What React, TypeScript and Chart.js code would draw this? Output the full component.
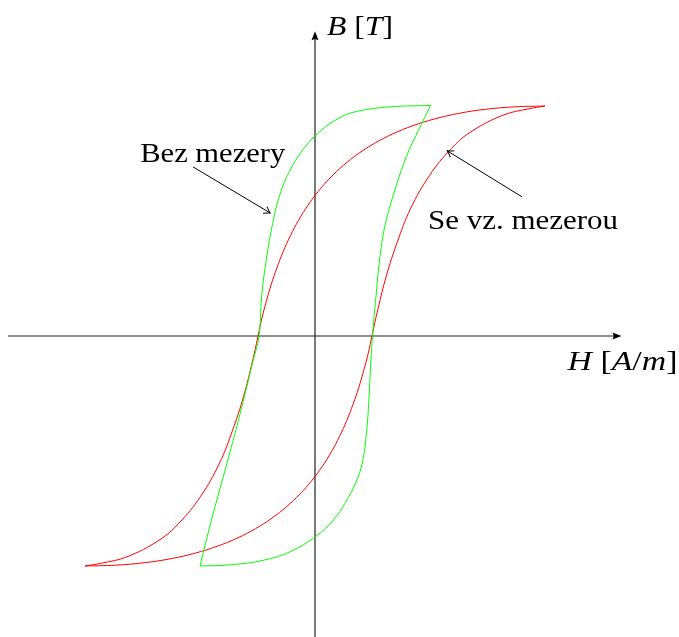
import React, { useEffect, useRef } from "react";
import { Chart, registerables } from "chart.js";

Chart.register(...registerables);

// Hysteresis loops B(H): descending and ascending branches of each loop.
// Loop without an air gap (green)
const bezDownH = [2.01, 1.3, 0.725, 0.435, 0.078, -0.217, -0.447, -0.61, -0.737, -0.843, -0.93, -0.974, -1.09, -1.23, -1.375, -1.53, -1.69, -1.845, -2.0];
const bezDownB = [4.01, 3.985, 3.905, 3.8, 3.55, 3.23, 2.86, 2.46, 1.955, 1.355, 0.664, 0, -0.48, -1.06, -1.63, -2.21, -2.79, -3.37, -4.0];
const bezUpH = [-2.0, -1.48, -0.9, -0.43, 0.02, 0.32, 0.53, 0.713, 0.826, 0.9, 0.94, 0.97, 1.0, 1.06, 1.13, 1.226, 1.39, 1.59, 1.8, 2.01];
const bezUpB = [-4.0, -3.98, -3.9, -3.75, -3.48, -3.2, -2.896, -2.54, -2.19, -1.63, -1.06, -0.47, 0, 0.68, 1.38, 1.96, 2.54, 3.12, 3.58, 4.01];

// Loop with an air gap (red)
const sDownH = [4.0, 3.459, 2.96, 2.502, 2.082, 1.699, 1.35, 1.035, 0.75, 0.493, 0.264, 0.059, -0.123, -0.285, -0.427, -0.553, -0.663, -0.762, -0.848, -0.926, -0.99, -1.095, -1.245, -1.43, -1.66, -1.99, -2.37, -2.71, -3.27, -3.71, -4.0];
const sDownB = [4.0, 3.985, 3.942, 3.872, 3.776, 3.656, 3.514, 3.351, 3.168, 2.967, 2.75, 2.518, 2.272, 2.014, 1.746, 1.469, 1.184, 0.893, 0.598, 0.3, 0, -0.47, -1.06, -1.63, -2.21, -2.79, -3.26, -3.55, -3.84, -3.95, -4.0];
const sUpH = [-4.0, -3.459, -2.96, -2.502, -2.082, -1.699, -1.35, -1.035, -0.75, -0.493, -0.264, -0.059, 0.123, 0.285, 0.427, 0.553, 0.663, 0.762, 0.848, 0.926, 0.99, 1.095, 1.245, 1.43, 1.66, 1.99, 2.37, 2.71, 3.27, 3.71, 4.0];
const sUpB = [-4.0, -3.985, -3.942, -3.872, -3.776, -3.656, -3.514, -3.351, -3.168, -2.967, -2.75, -2.518, -2.272, -2.014, -1.746, -1.469, -1.184, -0.893, -0.598, -0.3, 0, 0.47, 1.06, 1.63, 2.21, 2.79, 3.26, 3.55, 3.84, 3.95, 4.0];

// Axis extents (data units)
const axisH = [-5.34, 5.33];
const axisB = [-5.3, 5.3];

// Annotation texts
const labelBez = "Bez mezery";
const labelSe = "Se vz. mezerou";

const W = 679;
const H = 637;
const UNIT = 57.5; // px per data unit
const ORIGIN_X = 315;
const ORIGIN_Y = 336;

const FONT = '"Liberation Serif", "Times New Roman", serif';

type Seg = { t: string; italic?: boolean };

function drawRich(
  ctx: CanvasRenderingContext2D,
  segs: Seg[],
  x: number,
  baseline: number,
  size: number,
  targetWidth: number
) {
  const fontOf = (s: Seg) => `${s.italic ? "italic " : ""}${size}px ${FONT}`;
  let w = 0;
  segs.forEach((s) => {
    ctx.font = fontOf(s);
    w += ctx.measureText(s.t).width;
  });
  const sx = targetWidth / w;
  ctx.save();
  ctx.translate(x, baseline);
  ctx.scale(sx, 1);
  ctx.fillStyle = "#000";
  ctx.textBaseline = "alphabetic";
  ctx.textAlign = "left";
  let cx = 0;
  segs.forEach((s) => {
    ctx.font = fontOf(s);
    ctx.fillText(s.t, cx, 0);
    cx += ctx.measureText(s.t).width;
  });
  ctx.restore();
}

function filledTip(ctx: CanvasRenderingContext2D, x: number, y: number, angle: number) {
  const len = 9;
  const half = 3.5;
  ctx.save();
  ctx.translate(x, y);
  ctx.rotate(angle);
  ctx.beginPath();
  ctx.moveTo(0, 0);
  ctx.lineTo(-len, -half);
  ctx.lineTo(-len * 0.85, 0);
  ctx.lineTo(-len, half);
  ctx.closePath();
  ctx.fillStyle = "#000";
  ctx.fill();
  ctx.restore();
}

function openArrow(ctx: CanvasRenderingContext2D, x0: number, y0: number, x1: number, y1: number) {
  const a = Math.atan2(y1 - y0, x1 - x0);
  ctx.save();
  ctx.strokeStyle = "#000";
  ctx.lineWidth = 1;
  ctx.beginPath();
  ctx.moveTo(x0, y0);
  ctx.lineTo(x1, y1);
  ctx.stroke();
  ctx.translate(x1, y1);
  ctx.rotate(a);
  ctx.beginPath();
  ctx.moveTo(-6, -3.8);
  ctx.quadraticCurveTo(-2, -1, 0, 0);
  ctx.quadraticCurveTo(-2, 1, -6, 3.8);
  ctx.stroke();
  ctx.restore();
}

const pts = (hs: number[], bs: number[]) => hs.map((h, i) => ({ x: h, y: bs[i] }));

const axesPlugin = {
  id: "hystAxes",
  beforeDatasetsDraw(chart: any) {
    const ctx: CanvasRenderingContext2D = chart.ctx;
    const xs = chart.scales.x;
    const ys = chart.scales.y;
    const ox = xs.getPixelForValue(0);
    const oy = ys.getPixelForValue(0);
    const xl = xs.getPixelForValue(axisH[0]);
    const xr = xs.getPixelForValue(axisH[1]);
    const yb = ys.getPixelForValue(axisB[0]);
    const yt = ys.getPixelForValue(axisB[1]);
    ctx.save();
    ctx.strokeStyle = "#222";
    ctx.lineWidth = 1.2;
    ctx.beginPath();
    ctx.moveTo(xl, oy);
    ctx.lineTo(xr - 4, oy);
    ctx.moveTo(ox, yb);
    ctx.lineTo(ox, yt + 4);
    ctx.stroke();
    filledTip(ctx, xr, oy, 0);
    filledTip(ctx, ox, yt, -Math.PI / 2);
    ctx.restore();
  },
  afterDatasetsDraw(chart: any) {
    const ctx: CanvasRenderingContext2D = chart.ctx;
    const xs = chart.scales.x;
    const ys = chart.scales.y;
    const px = (h: number) => xs.getPixelForValue(h);
    const py = (b: number) => ys.getPixelForValue(b);
    const ox = px(0);
    const oy = py(0);

    // Axis labels
    drawRich(
      ctx,
      [{ t: "B", italic: true }, { t: " [" }, { t: "T", italic: true }, { t: "]" }],
      ox + 12,
      py(axisB[1]) + 4,
      28,
      66
    );
    drawRich(
      ctx,
      [{ t: "H", italic: true }, { t: " [" }, { t: "A", italic: true }, { t: "/" }, { t: "m", italic: true }, { t: "]" }],
      px(axisH[1]) - 54,
      oy + 34,
      28,
      110
    );

    // Annotations
    drawRich(ctx, [{ t: labelBez }], px(-3.04), py(3.02), 28, 145);
    openArrow(ctx, px(-2.12), py(2.94), px(-0.78), py(2.14));
    drawRich(ctx, [{ t: labelSe }], px(1.965), py(1.86), 28, 190);
    openArrow(ctx, px(3.6), py(2.42), px(2.3), py(3.22));
  },
};

export default function App() {
  const ref = useRef<HTMLCanvasElement | null>(null);

  useEffect(() => {
    if (!ref.current) return;
    const line = (data: { x: number; y: number }[], color: string) => ({
      data,
      showLine: true,
      borderColor: color,
      backgroundColor: color,
      borderWidth: 1,
      pointRadius: 0,
      pointHoverRadius: 0,
      tension: 0.4,
      fill: false,
    });
    const chart = new Chart(ref.current, {
      type: "scatter",
      data: {
        datasets: [
          line(pts(bezDownH, bezDownB), "#00ff00"),
          line(pts(bezUpH, bezUpB), "#00ff00"),
          line(pts(sDownH, sDownB), "#ff0000"),
          line(pts(sUpH, sUpB), "#ff0000"),
        ],
      },
      options: {
        responsive: false,
        animation: false,
        devicePixelRatio: 1,
        layout: { padding: 0 },
        events: [],
        plugins: {
          legend: { display: false },
          tooltip: { enabled: false },
        },
        scales: {
          x: {
            type: "linear",
            display: false,
            min: -ORIGIN_X / UNIT,
            max: (W - ORIGIN_X) / UNIT,
          },
          y: {
            type: "linear",
            display: false,
            min: -(H - ORIGIN_Y) / UNIT,
            max: ORIGIN_Y / UNIT,
          },
        },
      },
      plugins: [axesPlugin],
    });
    return () => chart.destroy();
  }, []);

  return (
    <div style={{ position: "fixed", left: 0, top: 0, width: W, height: H, background: "#fff" }}>
      <canvas ref={ref} width={W} height={H} style={{ display: "block", width: W, height: H }} />
    </div>
  );
}
